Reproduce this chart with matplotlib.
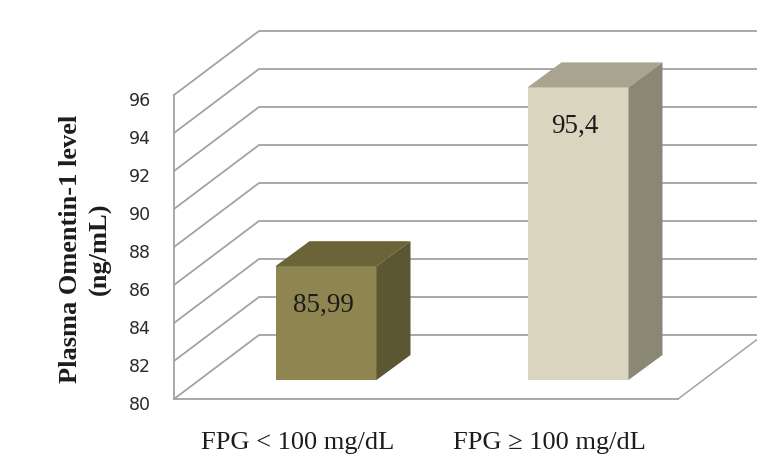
#import packages
import matplotlib
matplotlib.use('Agg')
import matplotlib.pyplot as plt
from matplotlib.patches import Polygon
from matplotlib.transforms import ScaledTranslation

#values
categories = ['FPG < 100 mg/dL', 'FPG \u2265 100 mg/dL']
values = [85.99, 95.4]
value_labels = ['85,99', '95,4']
y_ticks = [80, 82, 84, 86, 88, 90, 92, 94, 96]

#colours for each bar: front, top, side
front_cols = ['#8F8550', '#DAD5BE']
top_cols = ['#6C6439', '#A8A48F']
side_cols = ['#5C5633', '#8B8775']
grid_col = '#a3a3a3'

W, H = 757, 459
fig = plt.figure(figsize=(W/100, H/100), dpi=100)
ax = fig.add_axes([174/W, 1-399/H, 504/W, 304/H])
ax.set_xlim(-0.5, 1.5)
ax.set_ylim(80, 96)
ax.patch.set_visible(False)

#pixels to data units
px_x = 2/504
px_y = 16/304

#depth of the fake 3d box, and of the bars inside it
wall_dx, wall_dy = 85*px_x, 64*px_y
bar_off_x, bar_off_y = 26*px_x, 19*px_y
bar_dx, bar_dy = 34*px_x, 25*px_y
bar_w = 101*px_x

#back wall lines and the diagonals on the left wall
x0, x1 = ax.get_xlim()
for t in y_ticks:
    ax.plot([x0, x0+wall_dx, x1+wall_dx], [t, t+wall_dy, t+wall_dy],
            color=grid_col, lw=1.3, clip_on=False, zorder=1)
#floor edge on the right
ax.plot([x1, x1+wall_dx], [80, 80+wall_dy], color=grid_col, lw=1.1, clip_on=False, zorder=1)

#bars
for i in range(len(values)):
    l = i - bar_w/2 + bar_off_x
    r = l + bar_w
    b = 80 + bar_off_y
    t = values[i] + bar_off_y
    ax.add_patch(Polygon([(l, b), (r, b), (r, t), (l, t)], fc=front_cols[i], ec='none', clip_on=False, zorder=3))
    ax.add_patch(Polygon([(l, t), (r, t), (r+bar_dx, t+bar_dy), (l+bar_dx, t+bar_dy)], fc=top_cols[i], ec='none', clip_on=False, zorder=3))
    ax.add_patch(Polygon([(r, b), (r+bar_dx, b+bar_dy), (r+bar_dx, t+bar_dy), (r, t)], fc=side_cols[i], ec='none', clip_on=False, zorder=3))
    ax.annotate(value_labels[i], xy=(l+bar_w/2, t), xytext=(-2, -28), textcoords='offset points',
                ha='center', va='center', family='Liberation Serif', fontsize=19.5, color='#1c1c1c',
                zorder=4, annotation_clip=False)

#axis styling
for s in ['top', 'right']:
    ax.spines[s].set_visible(False)
for s in ['left', 'bottom']:
    ax.spines[s].set_color(grid_col)
    ax.spines[s].set_linewidth(1.3)

ax.set_yticks(y_ticks)
ax.tick_params(axis='y', length=0, pad=16.5, labelsize=12.5, labelcolor='#2a2a2a')
down = ScaledTranslation(0, -3/72, fig.dpi_scale_trans)
for lab in ax.get_yticklabels():
    lab.set_transform(lab.get_transform() + down)

ax.set_xticks([-0.01, 0.99])
ax.set_xticklabels(categories, family='Liberation Serif', fontsize=19, color='#1c1c1c')
ax.tick_params(axis='x', length=0, pad=24)

ax.set_ylabel('Plasma Omentin-1 level\n(ng/mL)', family='Liberation Serif', fontweight='bold',
              fontsize=19, color='#1c1c1c', linespacing=1.35)
ax.yaxis.set_label_coords((112-174)/504, (399-249)/304)

plt.savefig('out.png', dpi=100)
